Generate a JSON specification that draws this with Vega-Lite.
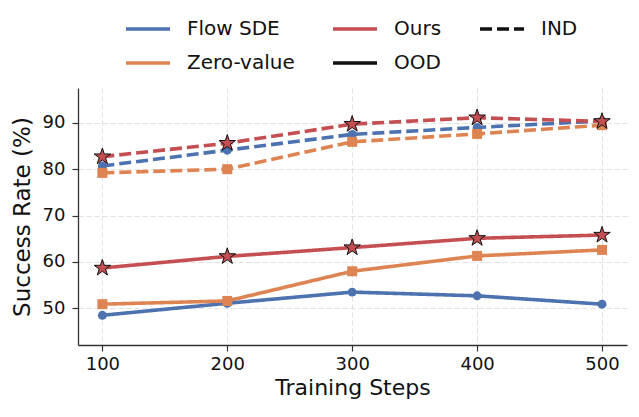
{
  "$schema": "https://vega.github.io/schema/vega-lite/v6.json",
  "width": 549,
  "height": 257,
  "autosize": "none",
  "padding": {"left": 78, "top": 88, "right": 12, "bottom": 72},
  "background": "white",
  "config": {
    "font": "DejaVu Sans",
    "view": {"stroke": null},
    "axis": {
      "domainColor": "#333",
      "domainWidth": 1.3,
      "tickColor": "#333",
      "tickSize": 6,
      "tickWidth": 1.2,
      "labelFontSize": 18,
      "labelColor": "#111",
      "titleFontSize": 22,
      "titleFontWeight": "normal",
      "titleColor": "#111",
      "gridColor": "#dedede",
      "gridDash": [5, 3],
      "gridWidth": 0.9
    }
  },
  "data": {
    "values": [
      {"method": "Flow SDE", "setting": "IND", "step": 100, "rate": 80.7},
      {"method": "Flow SDE", "setting": "IND", "step": 200, "rate": 84.1},
      {"method": "Flow SDE", "setting": "IND", "step": 300, "rate": 87.5},
      {"method": "Flow SDE", "setting": "IND", "step": 400, "rate": 89.0},
      {"method": "Flow SDE", "setting": "IND", "step": 500, "rate": 90.4},
      {"method": "Zero-value", "setting": "IND", "step": 100, "rate": 79.2},
      {"method": "Zero-value", "setting": "IND", "step": 200, "rate": 80.0},
      {"method": "Zero-value", "setting": "IND", "step": 300, "rate": 85.9},
      {"method": "Zero-value", "setting": "IND", "step": 400, "rate": 87.6},
      {"method": "Zero-value", "setting": "IND", "step": 500, "rate": 89.5},
      {"method": "Ours", "setting": "IND", "step": 100, "rate": 82.7},
      {"method": "Ours", "setting": "IND", "step": 200, "rate": 85.6},
      {"method": "Ours", "setting": "IND", "step": 300, "rate": 89.7},
      {"method": "Ours", "setting": "IND", "step": 400, "rate": 91.1},
      {"method": "Ours", "setting": "IND", "step": 500, "rate": 90.3},
      {"method": "Flow SDE", "setting": "OOD", "step": 100, "rate": 48.5},
      {"method": "Flow SDE", "setting": "OOD", "step": 200, "rate": 51.1},
      {"method": "Flow SDE", "setting": "OOD", "step": 300, "rate": 53.5},
      {"method": "Flow SDE", "setting": "OOD", "step": 400, "rate": 52.7},
      {"method": "Flow SDE", "setting": "OOD", "step": 500, "rate": 50.9},
      {"method": "Zero-value", "setting": "OOD", "step": 100, "rate": 50.9},
      {"method": "Zero-value", "setting": "OOD", "step": 200, "rate": 51.6},
      {"method": "Zero-value", "setting": "OOD", "step": 300, "rate": 58.0},
      {"method": "Zero-value", "setting": "OOD", "step": 400, "rate": 61.3},
      {"method": "Zero-value", "setting": "OOD", "step": 500, "rate": 62.6},
      {"method": "Ours", "setting": "OOD", "step": 100, "rate": 58.7},
      {"method": "Ours", "setting": "OOD", "step": 200, "rate": 61.2},
      {"method": "Ours", "setting": "OOD", "step": 300, "rate": 63.1},
      {"method": "Ours", "setting": "OOD", "step": 400, "rate": 65.1},
      {"method": "Ours", "setting": "OOD", "step": 500, "rate": 65.8}
    ]
  },
  "encoding": {
    "x": {
      "field": "step",
      "type": "quantitative",
      "title": "Training Steps",
      "scale": {"domain": [80.5, 520], "nice": false, "zero": false},
      "axis": {"values": [100, 200, 300, 400, 500], "titlePadding": 4, "labelPadding": 4}
    },
    "y": {
      "field": "rate",
      "type": "quantitative",
      "title": "Success Rate (%)",
      "scale": {"domain": [42.1, 97.5], "nice": false, "zero": false},
      "axis": {"values": [50, 60, 70, 80, 90], "titlePadding": 8, "labelPadding": 7, "titleFontSize": 23}
    },
    "color": {
      "field": "method",
      "type": "nominal",
      "scale": {
        "domain": ["Flow SDE", "Zero-value", "Ours", "OOD", "IND"],
        "range": ["#4C72B0", "#DD8452", "#C44E52", "#111111", "#111111"]
      },
      "legend": {
        "title": null,
        "values": ["Flow SDE", "Zero-value", "Ours", "OOD", "IND"],
        "orient": "none",
        "legendX": 46,
        "legendY": -83,
        "columns": 3,
        "columnPadding": 30,
        "rowPadding": -9,
        "symbolType": "stroke",
        "symbolSize": 1936,
        "symbolStrokeWidth": 3.6,
        "labelFontSize": 20,
        "labelColor": "#111",
        "labelOffset": 15,
        "encode": {
          "symbols": {
            "update": {
              "strokeDash": [
                {"test": "datum.value === 'IND'", "value": [12, 5]},
                {"value": [1, 0]}
              ]
            }
          }
        }
      }
    }
  },
  "layer": [
    {
      "mark": {"type": "line", "strokeWidth": 3.6},
      "encoding": {
        "strokeDash": {
          "field": "setting",
          "type": "nominal",
          "scale": {"domain": ["IND", "OOD"], "range": [[12, 5], [1, 0]]},
          "legend": null
        },
        "detail": {"field": "method", "type": "nominal"}
      }
    },
    {
      "transform": [{"filter": "datum.method === 'Flow SDE'"}],
      "mark": {"type": "point", "shape": "circle", "filled": true, "size": 80, "opacity": 1}
    },
    {
      "transform": [{"filter": "datum.method === 'Zero-value'"}],
      "mark": {"type": "point", "shape": "square", "filled": true, "size": 100, "opacity": 1}
    },
    {
      "transform": [{"filter": "datum.method === 'Ours'"}],
      "mark": {
        "type": "point",
        "shape": "M0,-1L-0.225,-0.309L-0.951,-0.309L-0.363,0.118L-0.588,0.809L0,0.382L0.588,0.809L0.363,0.118L0.951,-0.309L0.225,-0.309Z",
        "filled": true,
        "size": 300,
        "opacity": 1,
        "stroke": "#111",
        "strokeWidth": 1
      }
    }
  ]
}
